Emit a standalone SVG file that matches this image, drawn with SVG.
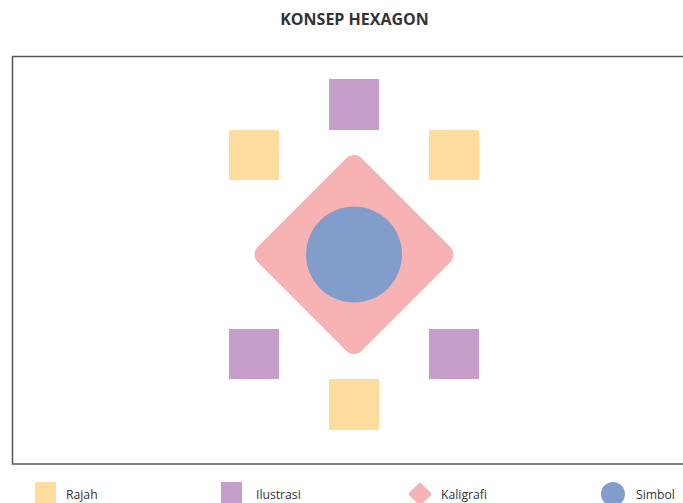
<svg xmlns="http://www.w3.org/2000/svg" width="683" height="503" viewBox="0 0 683 503">
<style>
.t{font-family:"Open Sans","Liberation Sans",sans-serif;fill:#333}
.title{font-size:16px;font-weight:bold;text-anchor:middle}
.lg{font-size:12.2px}
.y{fill:#FEDC9E}
.p{fill:#C59ECA}
.k{fill:#F7B3B4}
.b{fill:#829DCC}
</style>
<rect width="683" height="503" fill="#fff"/>
<text class="t title" x="354.5" y="25">KONSEP HEXAGON</text>
<rect x="12.5" y="56.5" width="700" height="407.5" fill="none" stroke="#555" stroke-width="1.5"/>
<g id="kaligrafi"><rect class="k" x="-73.5" y="-73.5" width="147" height="147" rx="11" transform="translate(354 254.5) rotate(45)"/></g>
<g id="simbol"><circle class="b" cx="354" cy="254.5" r="48"/></g>
<g id="ilustrasi-top"><rect class="p" x="329" y="79" width="50" height="51"/></g>
<g id="rajah-tl"><rect class="y" x="229" y="130" width="50" height="50"/></g>
<g id="rajah-tr"><rect class="y" x="429" y="130" width="50" height="50"/></g>
<g id="ilustrasi-bl"><rect class="p" x="229" y="329" width="50" height="50"/></g>
<g id="ilustrasi-br"><rect class="p" x="429" y="329" width="50" height="50"/></g>
<g id="rajah-bottom"><rect class="y" x="329" y="379" width="50" height="51"/></g>
<g id="connectors"></g>
<g id="legend">
<rect class="y" x="35" y="482" width="21" height="24"/>
<text class="t lg" x="66" y="499">Rajah</text>
<rect class="p" x="221" y="482" width="21" height="24"/>
<text class="t lg" x="256" y="499">Ilustrasi</text>
<rect class="k" x="-8.5" y="-8.5" width="17" height="17" rx="2" transform="translate(420 494) rotate(45)"/>
<text class="t lg" x="441" y="499">Kaligrafi</text>
<circle class="b" cx="613" cy="494" r="12"/>
<text class="t lg" x="636" y="499">Simbol</text>
</g>
</svg>
